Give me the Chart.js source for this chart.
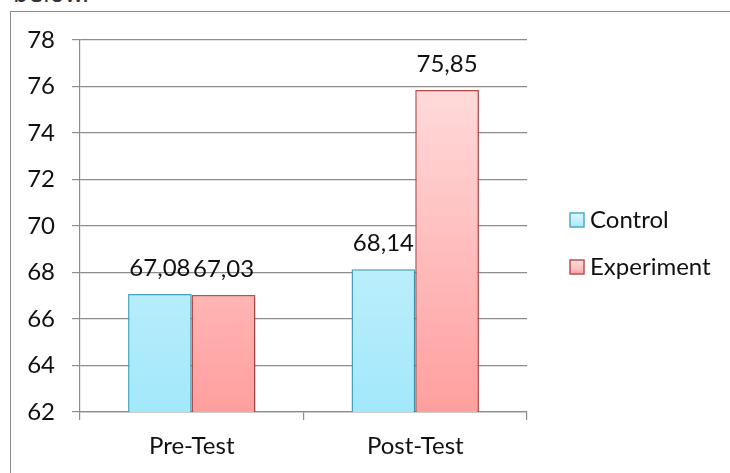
<!DOCTYPE html>
<html>
<head>
<meta charset="utf-8">
<script src="https://cdn.jsdelivr.net/npm/chart.js@4/dist/chart.umd.min.js"></script>
<style>
  html, body { margin: 0; padding: 0; background: #fff; overflow: hidden; }
  #wrap { position: relative; width: 730px; height: 473px; }
  #frame { position: absolute; left: 10px; top: 11px; width: 730px; height: 480px;
           border-left: 1.5px solid #8a8a8a; border-top: 1.5px solid #8a8a8a; box-sizing: border-box; }
  #prev { position: absolute; left: 13px; top: -20px; font: 24px "DejaVu Sans", sans-serif; color: #333; line-height: 28px; }
  canvas { position: absolute; left: 0; top: 0; }
</style>
</head>
<body>
<div id="wrap">
  <div id="prev">below.</div>
  <div id="frame"></div>
  <canvas id="c" width="730" height="473"></canvas>
</div>
<script>
const categories = ['Pre-Test', 'Post-Test'];
const controlScores = [67.08, 68.14];
const experimentScores = [67.03, 75.85];
const seriesNames = ['Control', 'Experiment'];
const yTicks = [62, 64, 66, 68, 70, 72, 74, 76, 78];

const FONT = { family: 'Lato, "Open Sans", sans-serif', size: 24 };
const GRID = '#8c8c8c';

function gradient(chart, top, bottom) {
  const a = chart.chartArea;
  if (!a) return bottom;
  const g = chart.ctx.createLinearGradient(0, a.top, 0, a.bottom);
  g.addColorStop(0, top);
  g.addColorStop(1, bottom);
  return g;
}

const fmt = v => v.toFixed(2).replace('.', ',');

const valueLabels = {
  id: 'valueLabels',
  afterDatasetsDraw(chart) {
    const ctx = chart.ctx;
    ctx.save();
    ctx.font = `${FONT.size}px ${FONT.family}`;
    ctx.fillStyle = '#111';
    ctx.textAlign = 'center';
    ctx.textBaseline = 'alphabetic';
    chart.data.datasets.forEach((ds, i) => {
      chart.getDatasetMeta(i).data.forEach((bar, j) => {
        ctx.fillText(fmt(ds.data[j]), bar.x, bar.y - 18);
      });
    });
    ctx.restore();
  }
};

const barShadow = {
  id: 'barShadow',
  beforeDatasetsDraw(chart) {
    const ctx = chart.ctx;
    ctx.save();
    ctx.shadowColor = 'rgba(0,0,0,0.25)';
    ctx.shadowBlur = 4;
    ctx.shadowOffsetX = 1;
    ctx.shadowOffsetY = 1;
  },
  afterDatasetsDraw(chart) {
    chart.ctx.restore();
  }
};

const sideLegend = {
  id: 'sideLegend',
  afterDraw(chart) {
    const ctx = chart.ctx;
    const items = [
      { text: seriesNames[0], fill: ['#e2f8fe', '#a6e9fb'], stroke: '#4bacc6', y: 220 },
      { text: seriesNames[1], fill: ['#ffe3e3', '#ffa6a6'], stroke: '#c0504d', y: 267 }
    ];
    ctx.save();
    ctx.font = `${FONT.size}px ${FONT.family}`;
    ctx.textBaseline = 'middle';
    items.forEach(it => {
      const x = 570, s = 14, top = it.y - s / 2;
      const g = ctx.createLinearGradient(0, top, 0, top + s);
      g.addColorStop(0, it.fill[0]);
      g.addColorStop(1, it.fill[1]);
      ctx.fillStyle = g;
      ctx.fillRect(x, top, s, s);
      ctx.strokeStyle = it.stroke;
      ctx.lineWidth = 1.5;
      ctx.strokeRect(x, top, s, s);
      ctx.fillStyle = '#111';
      ctx.fillText(it.text, x + s + 6, it.y);
    });
    ctx.restore();
  }
};

new Chart(document.getElementById('c'), {
  type: 'bar',
  data: {
    labels: categories,
    datasets: [
      {
        label: seriesNames[0],
        data: controlScores,
        backgroundColor: c => gradient(c.chart, '#e2f8fe', '#a2e8fb'),
        borderColor: '#4bacc6',
        borderWidth: 1.5,
        borderSkipped: false
      },
      {
        label: seriesNames[1],
        data: experimentScores,
        backgroundColor: c => gradient(c.chart, '#ffe3e3', '#ff9f9f'),
        borderColor: '#c0504d',
        borderWidth: 1.5,
        borderSkipped: false
      }
    ]
  },
  options: {
    responsive: false,
    animation: false,
    devicePixelRatio: 1,
    layout: { padding: { left: 0, top: 40, right: 203, bottom: 0 } },
    datasets: { bar: { categoryPercentage: 0.57, barPercentage: 1.0 } },
    plugins: { legend: { display: false }, tooltip: { enabled: false } },
    scales: {
      x: {
        offset: true,
        grid: { display: true, drawOnChartArea: false, drawTicks: true, tickLength: 8, color: GRID, lineWidth: 1.2 },
        border: { display: true, color: GRID, width: 1.2 },
        ticks: { color: '#111', font: FONT, padding: 12 },
        afterFit(s) { s.height = 61; }
      },
      y: {
        min: 62, max: 78,
        afterBuildTicks(s) { s.ticks = yTicks.map(v => ({ value: v })); },
        grid: { display: true, drawOnChartArea: true, drawTicks: true, tickLength: 8, color: GRID, lineWidth: 1.2 },
        border: { display: true, color: GRID, width: 1.2 },
        ticks: { color: '#111', font: FONT, padding: 17 },
        afterFit(s) { s.width = 80; }
      }
    }
  },
  plugins: [barShadow, valueLabels, sideLegend]
});
</script>
</body>
</html>
